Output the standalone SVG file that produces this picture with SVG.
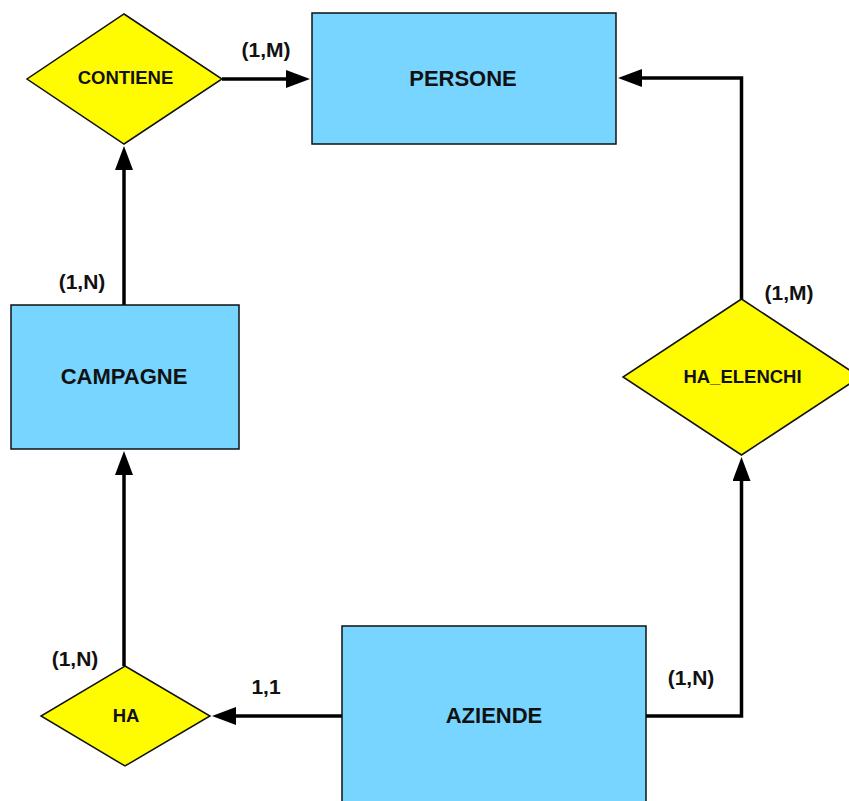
<svg xmlns="http://www.w3.org/2000/svg" width="849" height="801" viewBox="0 0 849 801">
  <style>
    .entity { fill: #77D5FF; stroke: #111; stroke-width: 1.5; }
    .rel { fill: #FFFB00; stroke: #111; stroke-width: 1.5; }
    .link { fill: none; stroke: #000; stroke-width: 3.5; stroke-linejoin: miter; }
    text { font-family: "Liberation Sans", Arial, Helvetica, sans-serif; font-weight: bold; fill: #111; text-anchor: middle; }
    .ename { font-size: 22px; }
    .rname { font-size: 18.5px; }
    .card { font-size: 21px; }
  </style>
  <defs>
    <marker id="head" viewBox="0 0 24 18" refX="0" refY="9" markerWidth="24" markerHeight="18" markerUnits="userSpaceOnUse" orient="auto">
      <path d="M0,0 L24,9 L0,18 z" fill="#000"/>
    </marker>
  </defs>

  <!-- connectors: each line stops at the base of its arrowhead -->
  <g id="connectors">
    <path class="link" d="M222,79 L286,79" marker-end="url(#head)"/>
    <path class="link" d="M124,305 L124,170" marker-end="url(#head)"/>
    <path class="link" d="M124,666 L124,475" marker-end="url(#head)"/>
    <path class="link" d="M342,716 L236,716" marker-end="url(#head)"/>
    <path class="link" d="M646,716 L741.5,716 L741.5,481" marker-end="url(#head)"/>
    <path class="link" d="M741.5,299 L741.5,78 L642,78" marker-end="url(#head)"/>
    <text class="card" x="266" y="57">(1,M)</text>
    <text class="card" x="82" y="289">(1,N)</text>
    <text class="card" x="75" y="666">(1,N)</text>
    <text class="card" x="266" y="694">1,1</text>
    <text class="card" x="691" y="685">(1,N)</text>
    <text class="card" x="789" y="300">(1,M)</text>
  </g>

  <g id="persone">
    <rect class="entity" x="312" y="13" width="304" height="131"/>
    <text class="ename" x="463" y="86">PERSONE</text>
  </g>

  <g id="campagne">
    <rect class="entity" x="11" y="305" width="228" height="144"/>
    <text class="ename" x="124" y="384">CAMPAGNE</text>
  </g>

  <g id="aziende">
    <rect class="entity" x="342" y="626" width="304" height="190"/>
    <text class="ename" x="494" y="723">AZIENDE</text>
  </g>

  <g id="contiene">
    <polygon class="rel" points="124,14 222,79 124,144 27,79"/>
    <text class="rname" x="125.5" y="84">CONTIENE</text>
  </g>

  <g id="ha">
    <polygon class="rel" points="125,666 210,716 125,766 41,716"/>
    <text class="rname" x="126" y="722">HA</text>
  </g>

  <g id="ha_elenchi">
    <polygon class="rel" points="741.5,299 860,377 741.5,455 623,377"/>
    <text class="rname" x="742.5" y="383">HA_ELENCHI</text>
  </g>
</svg>
